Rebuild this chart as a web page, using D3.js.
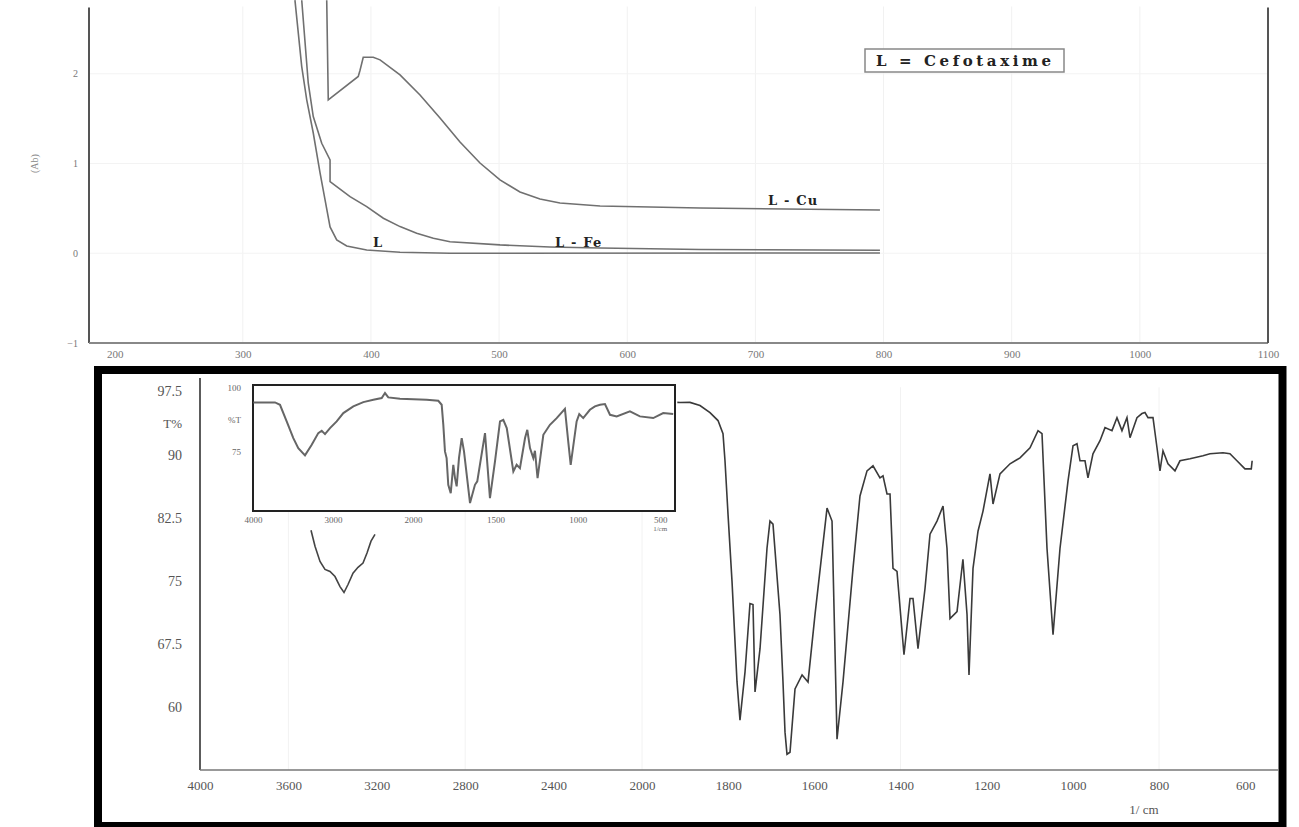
<!DOCTYPE html>
<html>
<head>
<meta charset="utf-8">
<script src="https://cdn.jsdelivr.net/npm/d3@7"></script>
<style>
body { margin: 0; background: #fff; }
svg text { font-family: "Liberation Serif", "DejaVu Serif", serif; }
svg text.bold-label { font-family: "DejaVu Serif", serif; font-weight: bold; }
</style>
</head>
<body>
<div id="chart"></div>
<script>
// ---- UV-Vis (top) ----
var uvTicks = [200, 300, 400, 500, 600, 700, 800, 900, 1000, 1100];
var abTicks = [-1, 0, 1, 2];

var lNm = [340.7, 346.0, 349.9, 355.0, 360.3, 364.2, 368.1, 373.3, 381.1, 396.7, 422.7, 461.7, 797.2];
var lAb = [2.82, 2.08, 1.71, 1.34, 0.895, 0.594, 0.293, 0.149, 0.081, 0.037, 0.011, 0.0, 0.003];

var feNm = [346.0, 351.1, 355.0, 361.6, 368.1, 368.1, 373.3, 383.7, 396.7, 409.7, 422.7, 435.7, 448.7, 461.7, 500.7, 539.7, 578.8, 656.8, 797.2];
var feAb = [2.82, 1.895, 1.523, 1.226, 1.04, 0.798, 0.742, 0.631, 0.52, 0.39, 0.297, 0.223, 0.167, 0.129, 0.093, 0.07, 0.059, 0.042, 0.033];

var cuNm = [365.5, 366.7, 390.1, 391.5, 394.0, 401.8, 407.1, 422.7, 438.3, 453.9, 469.5, 485.1, 500.7, 516.3, 531.9, 547.5, 578.8, 656.8, 797.2];
var cuAb = [2.82, 1.71, 1.97, 2.04, 2.185, 2.185, 2.155, 1.987, 1.764, 1.508, 1.24, 1.006, 0.817, 0.683, 0.605, 0.56, 0.527, 0.504, 0.482];

// curve labels placed at (nm, Ab)
var uvLabels = ["L - Cu", "L", "L - Fe"];
var uvLabelNm = [709.8, 401.6, 543.6];
var uvLabelAb = [0.54, 0.07, 0.07];

// ---- FT-IR (bottom) ----
var irTicks = [4000, 3600, 3200, 2800, 2400, 2000, 1800, 1600, 1400, 1200, 1000, 800, 600];
var tTicks = [97.5, 90, 82.5, 75, 67.5, 60];

// O-H / N-H band visible under the inset
var bandWn = [3497.7, 3479.6, 3457.0, 3434.4, 3411.8, 3389.1, 3366.5, 3348.4, 3330.3, 3307.7, 3285.1, 3262.4, 3244.3, 3226.2, 3208.1];
var bandT = [81.0, 79.1, 77.3, 76.35, 76.1, 75.5, 74.3, 73.6, 74.55, 75.9, 76.6, 77.1, 78.3, 79.7, 80.5];

var irWn = [1918, 1911.8, 1888.6, 1865.4, 1842.2, 1823.6, 1812.0, 1807.4, 1800.4, 1791.1, 1779.5, 1772.6, 1760.9, 1749.4, 1742.4,
  1737.7, 1726.1, 1709.9, 1703.0, 1696.0, 1679.8, 1672.8, 1668.1, 1663.5, 1656.5, 1644.9, 1628.5, 1614.7, 1598.5, 1570.6,
  1559.0, 1547.4, 1533.5, 1510.3, 1494.1, 1477.8, 1463.9, 1447.7, 1440.7, 1431.4, 1424.4, 1417.5, 1408.2, 1392.0, 1378.0,
  1371.1, 1359.5, 1343.2, 1331.6, 1315.4, 1301.4, 1292.2, 1285.2, 1268.9, 1255.2, 1245.7, 1241.1, 1231.8, 1220.2, 1208.6,
  1192.4, 1185.4, 1169.2, 1145.9, 1122.7, 1099.5, 1080.9, 1071.7, 1060.1, 1046.1, 1029.9, 1011.3, 999.7, 990.5, 983.5,
  971.9, 965.0, 953.4, 937.1, 925.5, 909.3, 897.7, 886.1, 874.5, 867.5, 851.3, 839.7, 832.7, 825.7, 814.1,
  804.8, 797.9, 790.9, 779.3, 763.1, 751.5, 728.3, 698.1, 681.9, 651.7, 635.5, 619.3, 600.7, 586, 584];
var irT = [96.2, 96.19, 96.2, 95.83, 94.99, 94.04, 92.48, 89.26, 82.92, 74.92, 62.97, 58.43, 64.17, 72.29, 72.17,
  61.78, 66.92, 78.86, 82.09, 81.73, 70.98, 62.97, 57.0, 54.37, 54.61, 62.14, 63.81, 62.97, 70.98, 83.64,
  82.09, 56.16, 62.97, 76.47, 85.08, 88.06, 88.66, 87.23, 87.46, 85.31, 85.31, 76.47, 76.11, 66.2, 72.89,
  72.89, 66.92, 74.08, 80.54, 82.09, 83.88, 78.86, 70.5, 71.34, 77.55, 70.98, 63.81, 76.47, 80.89, 83.28,
  87.7, 84.12, 87.7, 88.9, 89.61, 90.81, 92.84, 92.48, 78.86, 68.59, 78.86, 86.87, 91.05, 91.29, 89.26,
  89.26, 87.23, 90.09, 91.65, 93.2, 92.84, 94.39, 92.84, 94.39, 92.0, 94.39, 94.87, 94.99, 94.39, 94.39,
  90.81, 88.06, 90.45, 88.9, 88.06, 89.26, 89.5, 89.85, 90.09, 90.21, 90.09, 89.26, 88.3, 88.3, 89.26];

// inset: full-range spectrum
var insetXTicks = [4000, 3000, 2000, 1500, 1000, 500];
var insetYTicks = [100, 75];
var insetWn = [3996, 3725, 3662.5, 3579, 3496, 3434, 3350, 3266, 3184, 3141, 3100, 3037.5, 2954, 2871, 2746,
  2621, 2496, 2391, 2350, 2309, 2162.5, 1917, 1846.5, 1826, 1816, 1806, 1796, 1786, 1771, 1755.4,
  1745, 1735, 1721, 1704.5, 1690.5, 1654, 1624, 1610, 1563, 1533, 1502.4, 1472, 1452, 1431, 1391,
  1371, 1351, 1320, 1306.4, 1290, 1270, 1260, 1244, 1209, 1169, 1128, 1078, 1058, 1043, 1007,
  991, 967, 926.5, 896, 865.2, 835, 804.5, 764, 683.5, 623, 542, 481.6, 421];
var insetT = [94.41, 94.41, 93.48, 87.0, 80.47, 76.56, 73.71, 77.85, 82.42, 83.32, 82.03, 84.38, 86.99, 90.23, 92.85,
  94.53, 95.43, 96.09, 98.05, 96.37, 95.82, 95.43, 95.04, 93.48, 85.66, 75.27, 72.66, 62.23, 58.98, 70.04,
  64.84, 61.6, 72.66, 80.47, 75.27, 55.08, 62.23, 63.55, 82.42, 57.03, 71.37, 86.99, 87.62, 84.38, 67.46,
  70.04, 68.75, 80.47, 83.71, 76.56, 72.66, 75.51, 64.84, 81.76, 85.66, 88.28, 91.91, 79.18, 70.04, 86.99,
  89.84, 88.28, 91.52, 92.85, 93.48, 93.75, 89.57, 88.95, 90.9, 88.95, 88.28, 90.23, 89.84];

var width = 1299, height = 827;
var svg = d3.select("#chart")
            .append("svg")
            .attr("width", width)
            .attr("height", height);

// ================= top panel =================
var x = d3.scaleLinear().domain([180, 1100]).range([89, 1268]);
var y = d3.scaleLinear().domain([-1, 2.8]).range([343, 2]);

svg.append("defs").append("clipPath")
   .attr("id", "clipTop")
   .append("rect")
   .attr("x", x.range()[0]).attr("y", 0)
   .attr("width", x.range()[1] - x.range()[0])
   .attr("height", y(-1));

var uvPanel = svg.append("g");

// faint grid
uvPanel.selectAll(".vgrid")
   .data(uvTicks.slice(1, -1))
   .enter().append("line")
   .attr("x1", function(d) { return x(d); })
   .attr("x2", function(d) { return x(d); })
   .attr("y1", y(2.75)).attr("y2", y(-1))
   .style("stroke", "#f1f1f1");
uvPanel.selectAll(".hgrid")
   .data([0, 1, 2])
   .enter().append("line")
   .attr("x1", x(180)).attr("x2", x(1100))
   .attr("y1", function(d) { return y(d); })
   .attr("y2", function(d) { return y(d); })
   .style("stroke", "#f3f3f3");

uvPanel.append("g")
   .attr("transform", "translate(0," + y(-1) + ")")
   .call(d3.axisBottom(x).tickValues(uvTicks).tickSize(0).tickPadding(7).tickFormat(d3.format("d")))
   .call(function(g) { g.select(".domain").remove(); })
   .selectAll("text")
   .style("font-size", "11px")
   .style("fill", "#777");

uvPanel.append("g")
   .attr("transform", "translate(" + x(180) + ",0)")
   .call(d3.axisLeft(y).tickValues(abTicks).tickSize(0).tickPadding(11).tickFormat(d3.format("d")))
   .call(function(g) { g.select(".domain").remove(); })
   .selectAll("text")
   .style("font-size", "10px")
   .style("fill", "#777");

// frame: left, bottom, right
uvPanel.append("line")
   .attr("x1", x(180)).attr("x2", x(180))
   .attr("y1", y(2.74)).attr("y2", y(-1))
   .style("stroke", "#555").style("stroke-width", 2);
uvPanel.append("line")
   .attr("x1", x(180)).attr("x2", x(1100))
   .attr("y1", y(-1)).attr("y2", y(-1))
   .style("stroke", "#888").style("stroke-width", 2);
uvPanel.append("line")
   .attr("x1", x(1100)).attr("x2", x(1100))
   .attr("y1", y(2.74)).attr("y2", y(-1))
   .style("stroke", "#555").style("stroke-width", 2);

uvPanel.append("text")
   .attr("transform", "translate(38," + y(1) + ") rotate(-90)")
   .attr("text-anchor", "middle")
   .style("font-size", "10px")
   .style("fill", "#888")
   .text("(Ab)");

var uvLine = d3.line()
               .x(function(d) { return x(d[0]); })
               .y(function(d) { return y(d[1]); });

var uvSeries = [d3.zip(lNm, lAb), d3.zip(feNm, feAb), d3.zip(cuNm, cuAb)];
uvPanel.append("g")
   .attr("clip-path", "url(#clipTop)")
   .selectAll("path")
   .data(uvSeries)
   .enter().append("path")
   .attr("d", uvLine)
   .style("fill", "none")
   .style("stroke", "#707070")
   .style("stroke-width", 1.6);

uvPanel.selectAll(".clabel")
   .data(uvLabels)
   .enter().append("text")
   .attr("class", "bold-label")
   .attr("x", function(d, i) { return x(uvLabelNm[i]); })
   .attr("y", function(d, i) { return y(uvLabelAb[i]); })
   .style("font-size", "13px")
   .style("letter-spacing", "1.2px")
   .style("fill", "#222")
   .text(function(d) { return d; });

// legend box
uvPanel.append("rect")
   .attr("x", 865).attr("y", 49)
   .attr("width", 199).attr("height", 23)
   .style("fill", "#fff")
   .style("stroke", "#888")
   .style("stroke-width", 1.5);
uvPanel.append("text")
   .attr("class", "bold-label")
   .attr("x", 876).attr("y", 66)
   .style("font-size", "15px")
   .style("letter-spacing", "3.6px")
   .style("fill", "#222")
   .text("L = Cefotaxime");

// ================= bottom panel =================
var xIR = d3.scaleLinear().domain([4000, 2000, 524]).range([200, 642, 1278]);
var yIR = d3.scaleLinear().domain([52.5, 99.1]).range([770, 378]);

var irPanel = svg.append("g");

irPanel.selectAll(".vgrid")
   .data([3600, 2800, 2000, 1400, 800])
   .enter().append("line")
   .attr("x1", function(d) { return xIR(d); })
   .attr("x2", function(d) { return xIR(d); })
   .attr("y1", yIR(98)).attr("y2", yIR(52.5))
   .style("stroke", "#f2f2f2");

irPanel.append("g")
   .attr("transform", "translate(0," + yIR(52.5) + ")")
   .call(d3.axisBottom(xIR).tickValues(irTicks).tickSize(0).tickPadding(11).tickFormat(d3.format("d")))
   .call(function(g) { g.select(".domain").remove(); })
   .selectAll("text")
   .style("font-size", "13px")
   .style("fill", "#555");

irPanel.append("g")
   .attr("transform", "translate(" + xIR(4000) + ",0)")
   .call(d3.axisLeft(yIR).tickValues(tTicks).tickSize(0).tickPadding(18).tickFormat(function(d) { return d; }))
   .call(function(g) { g.select(".domain").remove(); })
   .selectAll("text")
   .style("font-size", "14px")
   .style("fill", "#555");

irPanel.append("text")
   .attr("x", xIR(4000) - 18)
   .attr("y", yIR(93.75) + 5)
   .attr("text-anchor", "end")
   .style("font-size", "13px")
   .style("fill", "#555")
   .text("T%");

irPanel.append("line")
   .attr("x1", xIR(4000)).attr("x2", xIR(4000))
   .attr("y1", yIR(99.1)).attr("y2", yIR(52.5))
   .style("stroke", "#333").style("stroke-width", 1.6);
irPanel.append("line")
   .attr("x1", xIR(4000)).attr("x2", xIR(524))
   .attr("y1", yIR(52.5)).attr("y2", yIR(52.5))
   .style("stroke", "#777").style("stroke-width", 1.6);

irPanel.append("text")
   .attr("x", xIR(835))
   .attr("y", 814)
   .attr("text-anchor", "middle")
   .style("font-size", "13px")
   .style("fill", "#555")
   .text("1/ cm");

var irLine = d3.line()
               .x(function(d) { return xIR(d[0]); })
               .y(function(d) { return yIR(d[1]); });

irPanel.append("path")
   .datum(d3.zip(bandWn, bandT))
   .attr("d", irLine)
   .style("fill", "none")
   .style("stroke", "#444")
   .style("stroke-width", 1.6);

irPanel.append("path")
   .datum(d3.zip(irWn, irT))
   .attr("d", irLine)
   .style("fill", "none")
   .style("stroke", "#3a3a3a")
   .style("stroke-width", 1.6);

// inset
var xIn = d3.scaleLinear().domain([4000, 2000, 410]).range([253, 413, 675]);
var yIn = d3.scaleLinear().domain([52, 101.2]).range([511, 385]);

var inset = svg.append("g");
inset.append("rect")
     .attr("x", xIn(4000)).attr("y", yIn(101.2))
     .attr("width", xIn(410) - xIn(4000))
     .attr("height", yIn(52) - yIn(101.2))
     .style("fill", "#fff")
     .style("stroke", "#222")
     .style("stroke-width", 2);

inset.append("g")
     .attr("transform", "translate(0," + yIn(52) + ")")
     .call(d3.axisBottom(xIn).tickValues(insetXTicks).tickSize(0).tickPadding(6).tickFormat(d3.format("d")))
     .call(function(g) { g.select(".domain").remove(); })
     .selectAll("text")
     .style("font-size", "9px")
     .style("fill", "#666");

inset.append("g")
     .attr("transform", "translate(" + xIn(4000) + ",0)")
     .call(d3.axisLeft(yIn).tickValues(insetYTicks).tickSize(0).tickPadding(12).tickFormat(d3.format("d")))
     .call(function(g) { g.select(".domain").remove(); })
     .selectAll("text")
     .style("font-size", "9px")
     .style("fill", "#666");

inset.append("text")
     .attr("x", xIn(4000) - 12)
     .attr("y", yIn(87.5) + 3)
     .attr("text-anchor", "end")
     .style("font-size", "9px")
     .style("fill", "#666")
     .text("%T");

inset.append("text")
     .attr("x", xIn(500))
     .attr("y", yIn(52) + 20)
     .attr("text-anchor", "middle")
     .style("font-size", "7px")
     .style("fill", "#666")
     .text("1/cm");

inset.append("path")
     .datum(d3.zip(insetWn, insetT))
     .attr("d", d3.line()
                  .x(function(d) { return xIn(d[0]); })
                  .y(function(d) { return yIn(d[1]); }))
     .style("fill", "none")
     .style("stroke", "#666")
     .style("stroke-width", 2);

// thick black frame around the IR panel
svg.append("rect")
   .attr("x", 98).attr("y", 370)
   .attr("width", 1184.5).attr("height", 456)
   .style("fill", "none")
   .style("stroke", "#000")
   .style("stroke-width", 8);
</script>
</body>
</html>
